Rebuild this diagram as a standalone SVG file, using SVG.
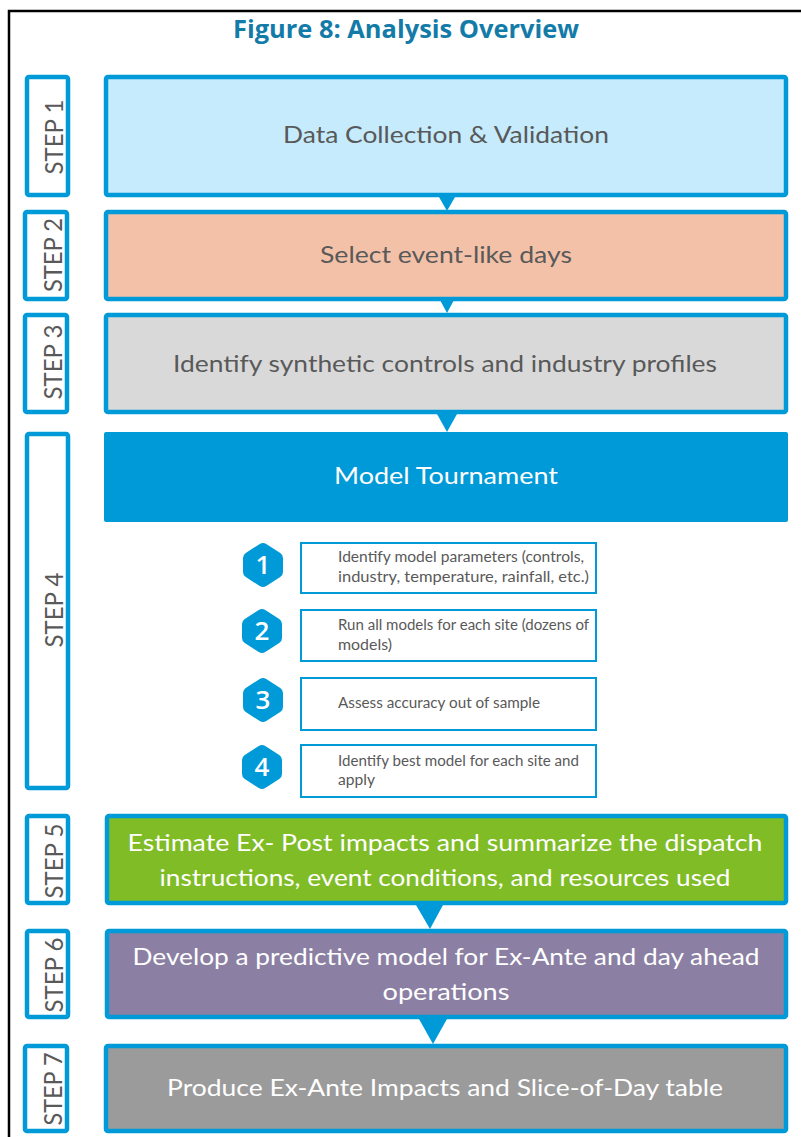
<svg xmlns="http://www.w3.org/2000/svg" width="801" height="1137" viewBox="0 0 801 1137">
  <style>
    .frame { fill: none; stroke: #000; stroke-width: 2.5; }
    .title { font-family: "Open Sans", "Noto Sans", sans-serif; font-weight: 700; font-size: 25px; fill: #137BA8; }
    .lbl { fill: #fff; stroke: #009AD8; stroke-width: 4.5; }
    .lbltxt { font-family: "Lato", "Noto Sans", sans-serif; font-size: 25px; fill: #595959; text-anchor: middle; }
    .box { stroke: #009AD8; stroke-width: 4.5; }
    .main { font-family: "Lato", "Noto Sans", sans-serif; font-size: 24px; text-anchor: middle; }
    .dark { fill: #595959; }
    .light { fill: #ffffff; }
    .sub { fill: #fff; stroke: #009AD8; stroke-width: 2; }
    .subtxt { font-family: "Lato", "Noto Sans", sans-serif; font-size: 14.5px; fill: #595959; }
    .badge { fill: #009AD8; stroke: #009AD8; stroke-width: 12; stroke-linejoin: round; }
    .num { font-family: "Open Sans", "Noto Sans", sans-serif; font-weight: 600; font-size: 26px; fill: #fff; text-anchor: middle; }
    .tri { fill: #009AD8; }
  </style>
  <defs>
    <path id="hex" d="M-14,-7 L0,-16 L14,-7 L14,7 L0,16 L-14,7 Z"/>
  </defs>

  <rect width="801" height="1137" fill="#fff"/>
  <path class="frame" d="M9,1137 L9,11 L801,11"/>

  <text class="title" x="406" y="38" text-anchor="middle" textLength="346" lengthAdjust="spacingAndGlyphs">Figure 8: Analysis Overview</text>

  <!-- arrows between stages -->
  <g id="connectors">
    <polygon class="tri" points="439,197 455,197 447,211"/>
    <polygon class="tri" points="440,300 454,300 447,313"/>
    <polygon class="tri" points="437,414 457,414 447,432"/>
    <polygon class="tri" points="416,905 443,905 430,929"/>
    <polygon class="tri" points="419,1019 447,1019 433,1044"/>
  </g>

  <g id="step1">
    <rect class="lbl" x="27" y="77" width="41" height="118" rx="2"/>
    <text class="lbltxt" transform="translate(63,137) rotate(-90)" textLength="75" lengthAdjust="spacingAndGlyphs">STEP 1</text>
    <rect class="box" x="106" y="77" width="680" height="118" rx="2" fill="#C5EBFC"/>
    <text class="main dark" x="446" y="143" textLength="326" lengthAdjust="spacingAndGlyphs">Data Collection &amp; Validation</text>
  </g>

  <g id="step2">
    <rect class="lbl" x="25" y="212" width="42" height="87" rx="2"/>
    <text class="lbltxt" transform="translate(62,255) rotate(-90)" textLength="74" lengthAdjust="spacingAndGlyphs">STEP 2</text>
    <rect class="box" x="106" y="212" width="680" height="87" rx="2" fill="#F3C1A8"/>
    <text class="main dark" x="446" y="263" textLength="252" lengthAdjust="spacingAndGlyphs">Select event-like days</text>
  </g>

  <g id="step3">
    <rect class="lbl" x="25" y="315" width="42" height="97" rx="2"/>
    <text class="lbltxt" transform="translate(62,362) rotate(-90)" textLength="75" lengthAdjust="spacingAndGlyphs">STEP 3</text>
    <rect class="box" x="106" y="315" width="680" height="97" rx="2" fill="#D9D9D9"/>
    <text class="main dark" x="445" y="372" textLength="544" lengthAdjust="spacingAndGlyphs">Identify synthetic controls and industry profiles</text>
  </g>

  <g id="step4">
    <rect class="lbl" x="27" y="434" width="41" height="354" rx="2"/>
    <text class="lbltxt" transform="translate(63,610) rotate(-90)" textLength="75" lengthAdjust="spacingAndGlyphs">STEP 4</text>
    <rect x="104" y="432" width="684" height="90" rx="2" fill="#009AD8"/>
    <text class="main light" x="446" y="484" textLength="224" lengthAdjust="spacingAndGlyphs">Model Tournament</text>
  </g>

  <g id="task1">
    <use href="#hex" class="badge" x="263" y="565"/>
    <text class="num" x="263" y="574">1</text>
    <rect class="sub" x="301" y="543" width="295" height="50"/>
    <text class="subtxt" x="338" y="562" textLength="246" lengthAdjust="spacingAndGlyphs">Identify model parameters (controls,</text>
    <text class="subtxt" x="338" y="582" textLength="251" lengthAdjust="spacingAndGlyphs">industry, temperature, rainfall, etc.)</text>
  </g>

  <g id="task2">
    <use href="#hex" class="badge" x="262" y="631"/>
    <text class="num" x="262" y="640">2</text>
    <rect class="sub" x="301" y="610" width="295" height="51"/>
    <text class="subtxt" x="338" y="630" textLength="251" lengthAdjust="spacingAndGlyphs">Run all models for each site (dozens of</text>
    <text class="subtxt" x="338" y="650" textLength="54" lengthAdjust="spacingAndGlyphs">models)</text>
  </g>

  <g id="task3">
    <use href="#hex" class="badge" x="263" y="700"/>
    <text class="num" x="263" y="709">3</text>
    <rect class="sub" x="301" y="678" width="295" height="52"/>
    <text class="subtxt" x="338" y="708" textLength="202" lengthAdjust="spacingAndGlyphs">Assess accuracy out of sample</text>
  </g>

  <g id="task4">
    <use href="#hex" class="badge" x="262" y="767"/>
    <text class="num" x="262" y="776">4</text>
    <rect class="sub" x="301" y="745" width="295" height="52"/>
    <text class="subtxt" x="338" y="766" textLength="241" lengthAdjust="spacingAndGlyphs">Identify best model for each site and</text>
    <text class="subtxt" x="338" y="785" textLength="37" lengthAdjust="spacingAndGlyphs">apply</text>
  </g>

  <g id="step5">
    <rect class="lbl" x="27" y="816" width="41" height="87" rx="2"/>
    <text class="lbltxt" transform="translate(63,861) rotate(-90)" textLength="75" lengthAdjust="spacingAndGlyphs">STEP 5</text>
    <rect class="box" x="107" y="816" width="679" height="87" rx="2" fill="#7FBC26"/>
    <text class="main light" x="445" y="851" font-size="25" textLength="635" lengthAdjust="spacingAndGlyphs">Estimate Ex- Post impacts and summarize the dispatch</text>
    <text class="main light" x="445" y="886" font-size="25" textLength="571" lengthAdjust="spacingAndGlyphs">instructions, event conditions, and resources used</text>
  </g>

  <g id="step6">
    <rect class="lbl" x="27" y="931" width="41" height="86" rx="2"/>
    <text class="lbltxt" transform="translate(63,975) rotate(-90)" textLength="75" lengthAdjust="spacingAndGlyphs">STEP 6</text>
    <rect class="box" x="107" y="931" width="679" height="86" rx="2" fill="#8B80A3"/>
    <text class="main light" x="446" y="965" font-size="25" textLength="627" lengthAdjust="spacingAndGlyphs">Develop a predictive model for Ex-Ante and day ahead</text>
    <text class="main light" x="446" y="1000" font-size="25" textLength="127" lengthAdjust="spacingAndGlyphs">operations</text>
  </g>

  <g id="step7">
    <rect class="lbl" x="25" y="1046" width="42" height="85" rx="2"/>
    <text class="lbltxt" transform="translate(62,1089) rotate(-90)" textLength="73" lengthAdjust="spacingAndGlyphs">STEP 7</text>
    <rect class="box" x="106" y="1046" width="680" height="85" rx="2" fill="#9B9B9B"/>
    <text class="main light" x="445" y="1096" textLength="556" lengthAdjust="spacingAndGlyphs">Produce Ex-Ante Impacts and Slice-of-Day table</text>
  </g>
</svg>
